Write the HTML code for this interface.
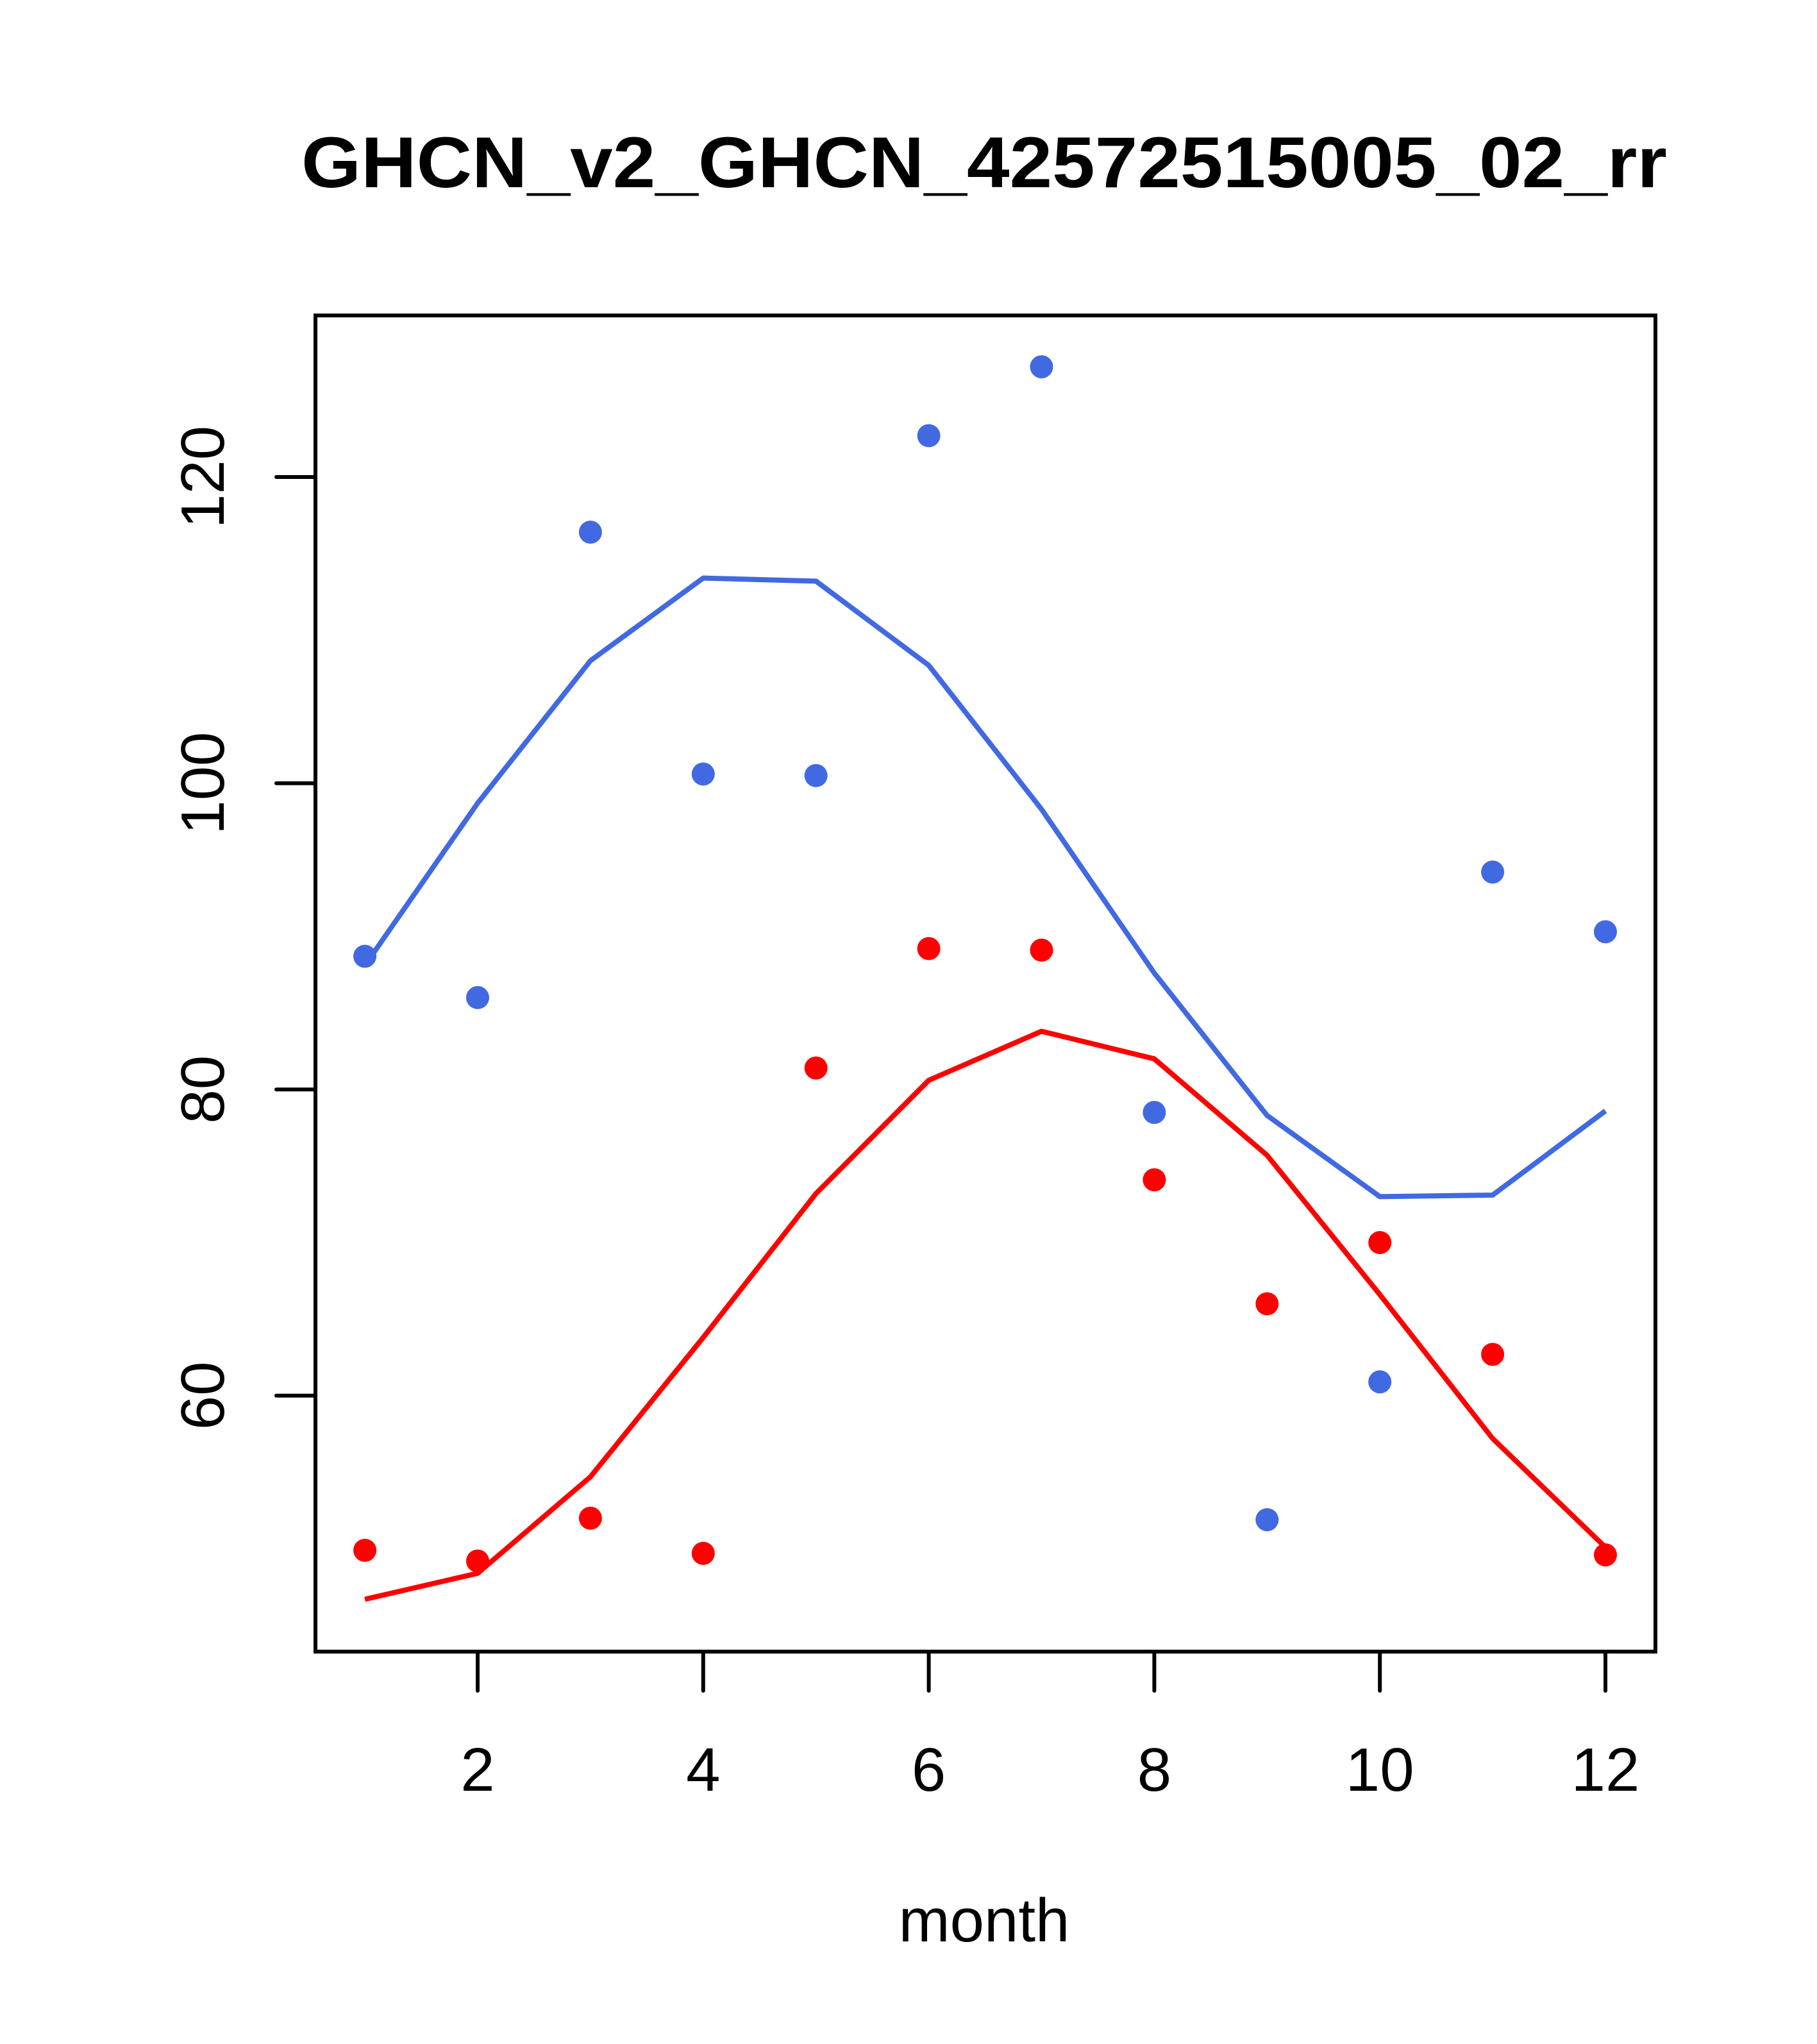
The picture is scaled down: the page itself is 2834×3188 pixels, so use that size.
<!DOCTYPE html>
<html><head><meta charset="utf-8"><style>body{margin:0;background:#fff}svg{display:block}</style></head>
<body>
<svg id="chart" width="2834" height="3188" xmlns="http://www.w3.org/2000/svg" font-family="Liberation Sans, Arial, sans-serif">
<rect width="2834" height="3188" fill="#fff"/>
<text x="1535" y="292" font-size="112" font-weight="bold" text-anchor="middle" textLength="2130" lengthAdjust="spacingAndGlyphs">GHCN_v2_GHCN_42572515005_02_rr</text>
<rect x="492" y="492" width="2090" height="2084" fill="none" stroke="#000" stroke-width="6"/>
<text x="1535" y="3028" font-size="96" text-anchor="middle">month</text>
<g id="xaxis"></g>
<g id="yaxis"></g>
<g id="series"></g>
</svg>
<script>
const months = [1,2,3,4,5,6,7,8,9,10,11,12];
const bluePoints = [88.7,86.0,116.4,100.6,100.5,122.7,127.2,78.5,51.9,60.9,94.2,90.3];
const blueLine = [88.1,98.7,108.0,113.4,113.2,107.7,98.3,87.6,78.3,73.0,73.1,78.6];
const redPoints = [49.9,49.2,52.0,49.7,81.4,89.2,89.1,74.1,66.0,70.0,62.7,49.6];
const redLine = [46.7,48.4,54.7,63.8,73.2,80.6,83.8,82.0,75.7,66.6,57.2,50.1];
const xTicks = [2,4,6,8,10,12];
const yTicks = [60,80,100,120];

const NS = "http://www.w3.org/2000/svg";
function xs(m){ return 745 + (m-2)*175.9; }
function ys(v){ return 744 + (120-v)*23.88; }
function mk(tag, attrs, parent){
  const e = document.createElementNS(NS, tag);
  for (const k in attrs) e.setAttribute(k, attrs[k]);
  parent.appendChild(e); return e;
}
const xg = document.getElementById('xaxis');
xTicks.forEach(t => {
  const l = mk('line', {x1:xs(t), x2:xs(t), y1:2576, y2:2637, stroke:'#000', 'stroke-width':6, 'stroke-linecap':'round'}, xg);
  
  
  const tx = mk('text', {x:xs(t), y:2793, 'font-size':96, 'text-anchor':'middle'}, xg);
  tx.textContent = t;
  
  
});
const yg = document.getElementById('yaxis');
yTicks.forEach(t => {
  const l = mk('line', {x1:431, x2:492, y1:ys(t), y2:ys(t), stroke:'#000', 'stroke-width':6, 'stroke-linecap':'round'}, yg);
  
  
  const tx = mk('text', {x:349, y:ys(t), 'font-size':96, 'text-anchor':'middle', transform:`rotate(-90 349 ${ys(t)})`}, yg);
  tx.textContent = t;
  
  
});
const sg = document.getElementById('series');
function drawLine(vals, color, name){
  const p = mk('polyline', {points: vals.map((v,i)=>xs(months[i])+','+ys(v)).join(' '), fill:'none', stroke:color, 'stroke-width':8, 'stroke-linejoin':'round'}, sg);
  
  
}
function drawPts(vals, color, name){
  vals.forEach((v,i) => {
    const c = mk('circle', {cx:xs(months[i]), cy:ys(v), r:18, fill:color}, sg);
    
    
  });
}
drawLine(blueLine, '#4169E1', 'blue-line');
drawLine(redLine, '#FF0000', 'red-line');
drawPts(bluePoints, '#4169E1', 'blue-point');
drawPts(redPoints, '#FF0000', 'red-point');
</script>
</body></html>
